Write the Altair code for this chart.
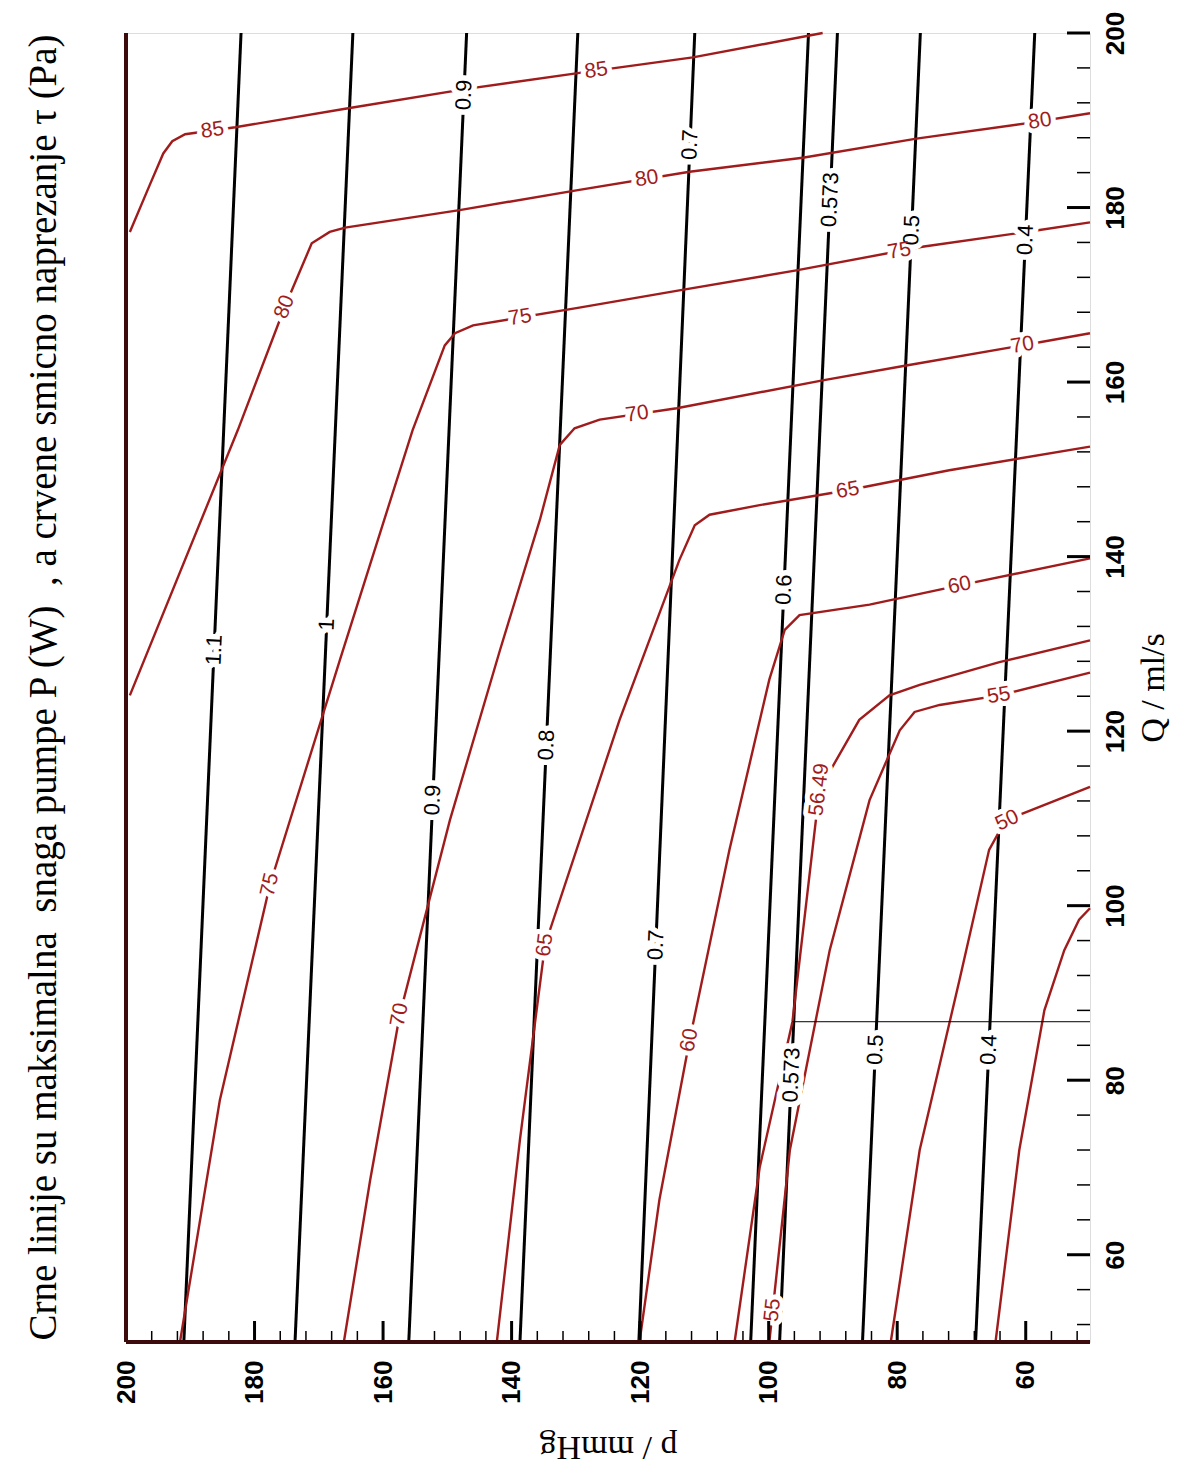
import math
import altair as alt
import pandas as pd

# ------------------------------------------------------------------
# axis ranges (image frame: horizontal = p [mmHg] reversed, vertical = Q [ml/s])
P_LO, P_HI = 50, 200
Q_LO, Q_HI = 50, 200
W, H = 964, 1309

axis_values = [60, 80, 100, 120, 140, 160, 180, 200]

# ---- black contours: maximal pump power P (W); straight lines, p at Q=200 and at Q=50
power_levels = ["1.1", "1", "0.9", "0.8", "0.7", "0.6", "0.573", "0.5", "0.4"]
power_p_at_Qtop = [182.1, 164.7, 147.0, 129.7, 111.5, 93.8, 89.3, 76.4, 58.6]
power_p_at_Qbot = [191.0, 173.7, 156.0, 138.7, 120.2, 102.8, 98.3, 85.4, 67.8]

power_label_level = ["1.1", "1", "0.9", "0.9", "0.8", "0.7", "0.7", "0.6",
                     "0.573", "0.573", "0.5", "0.5", "0.4", "0.4"]
power_label_Q = [129.3, 132.2, 192.9, 112.1, 118.4, 187.2, 95.5, 136.2,
                 180.9, 80.6, 177.4, 83.5, 176.3, 83.5]

# ---- red contours: shear stress tau (Pa)
tau85_p = [199.4, 196.3, 194.2, 192.8, 190.8, 183.0, 165.2, 147.0, 129.7, 111.8, 91.6]
tau85_Q = [177.2, 182.6, 186.2, 187.6, 188.4, 189.2, 191.4, 193.6, 195.4, 197.2, 200.0]

tau80_p = [199.4, 182.6, 175.3, 171.1, 168.3, 165.9, 148.1, 129.7, 112.3, 94.7, 77.0, 59.4, 50.0]
tau80_Q = [124.1, 154.5, 168.6, 175.9, 177.2, 177.7, 179.7, 182.0, 184.1, 185.7, 187.9, 189.7, 190.8]

tau75_p = [191.6, 185.4, 177.6, 166.7, 155.4, 150.4, 148.8, 146.0, 129.7, 113.9, 95.7, 76.1, 59.9, 50.0]
tau75_Q = [50.0, 77.7, 102.4, 128.2, 154.5, 164.2, 165.6, 166.5, 168.5, 170.5, 172.8, 175.5, 177.2, 178.3]

tau70_p = [166.1, 162.0, 157.4, 149.6, 141.8, 135.6, 132.5, 130.2, 126.3, 114.3, 91.6, 78.6, 62.1, 50.0]
tau70_Q = [50.0, 68.6, 87.5, 109.8, 129.3, 144.2, 152.8, 154.7, 155.7, 157.0, 160.2, 161.9, 164.0, 165.6]

tau65_p = [142.3, 138.7, 134.8, 123.2, 113.9, 111.5, 109.2, 101.4, 87.7, 71.9, 50.0]
tau65_Q = [50.0, 73.2, 95.5, 121.3, 139.6, 143.6, 144.8, 145.9, 147.6, 149.9, 152.6]

tau60_p = [120.1, 117.0, 112.3, 106.1, 99.9, 97.5, 95.2, 84.3, 70.3, 50.0]
tau60_Q = [50.0, 66.3, 84.6, 106.4, 125.9, 131.6, 133.3, 134.5, 136.7, 139.8]

tau5649_p = [105.3, 101.4, 96.3, 92.1, 85.9, 81.2, 76.5, 64.1, 50.0]
tau5649_Q = [50.0, 70.0, 86.7, 113.3, 121.3, 124.1, 125.3, 127.9, 130.4]

tau55_p = [99.9, 96.7, 90.5, 84.3, 79.6, 77.3, 73.4, 64.1, 50.0]
tau55_Q = [50.0, 72.0, 94.9, 112.1, 120.1, 122.2, 123.0, 124.1, 126.7]

tau50_p = [81.0, 76.5, 70.3, 65.7, 63.3, 61.0, 50.0]
tau50_Q = [50.0, 72.0, 91.5, 106.4, 109.6, 110.4, 113.6]

tau45_p = [64.7, 61.0, 57.1, 54.0, 51.7, 50.0]
tau45_Q = [50.0, 72.0, 88.0, 94.9, 98.4, 99.7]

tau_label_level = ["85", "85", "80", "80", "80", "75", "75", "75", "70", "70", "70",
                   "65", "65", "60", "60", "56.49", "55", "55", "50"]
tau_label_p = [186.6, 126.8, 175.3, 119.0, 57.9, 138.7, 79.6, 177.6, 120.5, 60.5, 157.4,
               87.7, 134.8, 70.3, 112.3, 92.1, 64.1, 99.9, 63.3]
tau_label_Q = [189.1, 195.5, 168.6, 183.5, 190.4, 167.5, 174.8, 102.4, 156.5, 164.2, 87.5,
               147.6, 95.5, 136.7, 84.6, 113.3, 123.6, 53.7, 110.4]

# operating point marker (thin line at the working flow)
op_p = [96.3, 50.0]
op_Q = [86.7, 86.7]

TITLE = ("Crne linije su maksimalna\u00a0 snaga pumpe P (W)\u00a0 , "
         "a crvene smicno naprezanje \u03c4 (Pa)")

RED = "#a01c1c"

# ------------------------------------------------------------------
tau_lines = {
    "85": (tau85_p, tau85_Q), "80": (tau80_p, tau80_Q), "75": (tau75_p, tau75_Q),
    "70": (tau70_p, tau70_Q), "65": (tau65_p, tau65_Q), "60": (tau60_p, tau60_Q),
    "56.49": (tau5649_p, tau5649_Q), "55": (tau55_p, tau55_Q),
    "50": (tau50_p, tau50_Q), "45": (tau45_p, tau45_Q),
}
power_lines = {lv: ([pt, pb], [Q_HI, Q_LO])
               for lv, pt, pb in zip(power_levels, power_p_at_Qtop, power_p_at_Qbot)}


def to_px(p, q):
    return (P_HI - p) * W / (P_HI - P_LO), (Q_HI - q) * H / (Q_HI - Q_LO)


def to_data(x, y):
    return P_HI - x * (P_HI - P_LO) / W, Q_HI - y * (Q_HI - Q_LO) / H


def place_label(ps, qs, p0, q0):
    X0, Y0 = to_px(p0, q0)
    best = None
    for i in range(len(ps) - 1):
        x1, y1 = to_px(ps[i], qs[i])
        x2, y2 = to_px(ps[i + 1], qs[i + 1])
        dx, dy = x2 - x1, y2 - y1
        L2 = dx * dx + dy * dy
        if L2 == 0:
            continue
        t = max(0.0, min(1.0, ((X0 - x1) * dx + (Y0 - y1) * dy) / L2))
        px, py = x1 + t * dx, y1 + t * dy
        d = math.hypot(px - X0, py - Y0)
        if best is None or d < best[0]:
            best = (d, px, py, dx, dy)
    _, px, py, dx, dy = best
    if dx < 0 or (abs(dx) < 1e-9 and dy > 0):
        dx, dy = -dx, -dy
    ang = math.degrees(math.atan2(dy, dx)) % 360
    p, q = to_data(px, py)
    return p, q, ang


def lines_df(lines):
    rows = []
    for lv, (ps, qs) in lines.items():
        for i, (p, q) in enumerate(zip(ps, qs)):
            rows.append({"level": lv, "p": p, "Q": q, "i": i})
    return pd.DataFrame(rows)


black_df = lines_df(power_lines)
red_df = lines_df(tau_lines)
op_df = pd.DataFrame({"p": op_p, "Q": op_Q, "i": [0, 1]})

blab = []
for lv, q in zip(power_label_level, power_label_Q):
    ps, qs = power_lines[lv]
    p0 = ps[0] + (ps[1] - ps[0]) * (Q_HI - q) / (Q_HI - Q_LO)
    p, qq, a = place_label(ps, qs, p0, q)
    blab.append({"text": lv, "p": p, "Q": qq, "angle": a})
blab_df = pd.DataFrame(blab)

rlab = []
for lv, p0, q0 in zip(tau_label_level, tau_label_p, tau_label_Q):
    ps, qs = tau_lines[lv]
    p, q, a = place_label(ps, qs, p0, q0)
    rlab.append({"text": lv, "p": p, "Q": q, "angle": a})
rlab_df = pd.DataFrame(rlab)

minor_vals = [v for v in range(52, 200, 4) if v % 20 != 0]
major_vals = axis_values
ticks_p_major = pd.DataFrame({"p": major_vals})
ticks_p_minor = pd.DataFrame({"p": minor_vals})
ticks_q_major = pd.DataFrame({"Q": major_vals})
ticks_q_minor = pd.DataFrame({"Q": minor_vals})

# ------------------------------------------------------------------
x_scale = alt.Scale(domain=[P_LO, P_HI], reverse=True, nice=False, zero=False)
y_scale = alt.Scale(domain=[Q_LO, Q_HI], nice=False, zero=False)

x_axis = alt.Axis(
    orient="bottom", values=axis_values, title="p / mmHg", format="d",
    labelAngle=270, labelAlign="right", labelBaseline="middle", labelPadding=18,
    labelFont="Liberation Sans", labelFontSize=26, labelFontWeight="bold",
    labelColor="black", labelOverlap=False, labelFlush=False,
    ticks=False, domain=False, grid=False,
    titleFont="Liberation Serif", titleFontSize=34, titleFontWeight="normal",
    titleColor="black", titleAngle=180, titleBaseline="bottom", titlePadding=26,
)
y_axis = alt.Axis(
    orient="right", values=axis_values, title="Q / ml/s", format="d",
    labelAngle=270, labelAlign="center", labelBaseline="top", labelPadding=12,
    labelFont="Liberation Sans", labelFontSize=26, labelFontWeight="bold",
    labelColor="black", labelOverlap=False, labelFlush=False,
    ticks=False, domain=False, grid=False,
    titleFont="Liberation Serif", titleFontSize=34, titleFontWeight="normal",
    titleColor="black", titleAngle=270, titleBaseline="top", titlePadding=8,
)

X = alt.X("p:Q", scale=x_scale, axis=x_axis)
Y = alt.Y("Q:Q", scale=y_scale, axis=y_axis)

black_lines = alt.Chart(black_df).mark_line(color="black", strokeWidth=3).encode(
    x=X, y=Y, detail="level:N", order="i:Q")
red_lines = alt.Chart(red_df).mark_line(color=RED, strokeWidth=2.4).encode(
    x=X, y=Y, detail="level:N", order="i:Q")
op_line = alt.Chart(op_df).mark_line(color="black", strokeWidth=1).encode(
    x=X, y=Y, order="i:Q")

text_common = dict(align="center", baseline="middle", font="Liberation Sans")
b_halo = alt.Chart(blab_df).mark_text(fontSize=22, stroke="white", strokeWidth=11,
                                      strokeJoin="round", fill="white", **text_common).encode(
    x=X, y=Y, text="text:N", angle=alt.Angle("angle:Q", scale=None))
b_text = alt.Chart(blab_df).mark_text(fontSize=22, color="black", **text_common).encode(
    x=X, y=Y, text="text:N", angle=alt.Angle("angle:Q", scale=None))
r_halo = alt.Chart(rlab_df).mark_text(fontSize=21, stroke="white", strokeWidth=10,
                                      strokeJoin="round", fill="white", **text_common).encode(
    x=X, y=Y, text="text:N", angle=alt.Angle("angle:Q", scale=None))
r_text = alt.Chart(rlab_df).mark_text(fontSize=21, color=RED, **text_common).encode(
    x=X, y=Y, text="text:N", angle=alt.Angle("angle:Q", scale=None))

tick_p_major = alt.Chart(ticks_p_major).mark_rule(color="black", strokeWidth=3).encode(
    x=X, y=alt.value(H), y2=alt.value(H - 21))
tick_p_minor = alt.Chart(ticks_p_minor).mark_rule(color="black", strokeWidth=1.5).encode(
    x=X, y=alt.value(H), y2=alt.value(H - 11))
tick_q_major = alt.Chart(ticks_q_major).mark_rule(color="black", strokeWidth=3).encode(
    y=Y, x=alt.value(W), x2=alt.value(W - 23))
tick_q_minor = alt.Chart(ticks_q_minor).mark_rule(color="black", strokeWidth=1.5).encode(
    y=Y, x=alt.value(W), x2=alt.value(W - 13))

left_edge = alt.Chart(pd.DataFrame({"e": [0]})).mark_rule(
    color="#3d0b0b", strokeWidth=4).encode(x=alt.value(0), y=alt.value(0), y2=alt.value(H))
bottom_edge = alt.Chart(pd.DataFrame({"e": [0]})).mark_rule(
    color="#3d0b0b", strokeWidth=4).encode(x=alt.value(0), x2=alt.value(W), y=alt.value(H))

chart = alt.layer(
    black_lines, red_lines, op_line,
    b_halo, r_halo, b_text, r_text,
    tick_p_major, tick_p_minor, tick_q_major, tick_q_minor,
    left_edge, bottom_edge,
).properties(
    width=W, height=H,
    autosize=alt.AutoSizeParams(type="none"),
    padding={"left": 118, "top": 25, "right": 83, "bottom": 126},
    title=alt.TitleParams(
        text=TITLE, orient="left", anchor="middle", font="Liberation Serif",
        fontSize=39, fontWeight="normal", color="black", offset=10, baseline="bottom"),
).configure_view(stroke="black", strokeWidth=4).configure(background="white")

chart.save("out.html", embed_options={"renderer": "svg", "actions": False})
